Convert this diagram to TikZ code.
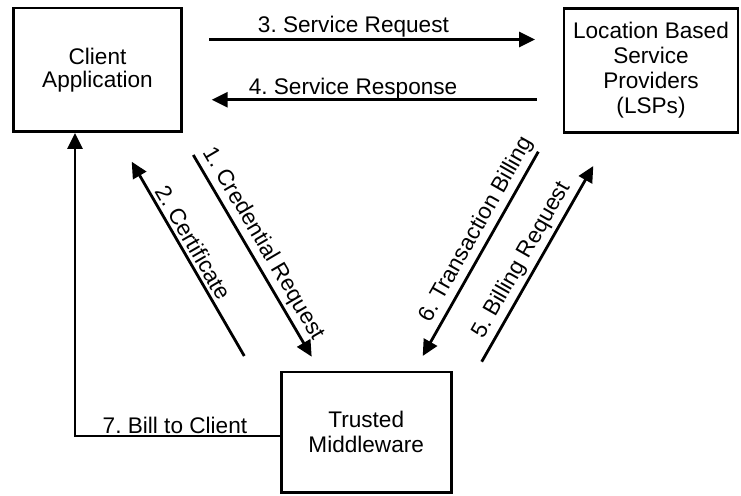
\documentclass[tikz,border=0pt]{standalone}
\usepackage{fontspec}
\setmainfont{Liberation Sans}
\usetikzlibrary{arrows.meta}
\frenchspacing
\begin{document}
\begin{tikzpicture}[x=1pt,y=-1pt,
  box/.style={draw, line width=2.8pt, align=center, inner sep=0pt,
    font=\fontsize{22.6}{25}\selectfont},
  conn/.style={line width=2.8pt, -{Triangle[length=16pt,width=15pt]}},
  lbl/.style={font=\fontsize{22.6}{25}\selectfont},
  hl/.style={lbl, anchor=base, inner sep=0pt},
  sl/.style={lbl, sloped, above}
]
\useasboundingbox (0,0) rectangle (741,495);

% boxes
\node[box, minimum width=168pt, minimum height=123.5pt] (client) at (97.5,69.75) {Client\\[-2pt]Application};
\node[box, minimum width=174pt, minimum height=124pt] (lsp) at (651,70.6) {Location Based\\Service\\Providers\\(LSPs)};
\node[box, minimum width=170pt, minimum height=120.5pt] (tm) at (366.2,432.2) {Trusted\\Middleware};

% endpoints of free connectors
\coordinate (srA) at (209,39.5);
\coordinate (srB) at (535,39.5);
\coordinate (rsA) at (536.7,99.7);
\coordinate (rsB) at (211.7,99.7);
\coordinate (crA) at (193.3,155);
\coordinate (crB) at (311.7,356.7);
\coordinate (ceA) at (244.3,356);
\coordinate (ceB) at (131.7,161.7);
\coordinate (tbA) at (538.3,151.7);
\coordinate (tbB) at (422.7,356);
\coordinate (brA) at (481.7,361.7);
\coordinate (brB) at (593.3,166);
\coordinate (bc) at (75,436);

% horizontal messages
\draw[conn] (srA) -- node[hl, pos=.443, yshift=6.5pt] {3. Service Request} (srB);
\draw[conn] (rsA) -- node[hl, pos=.565, yshift=5pt] {4. Service Response} (rsB);

% diagonal messages
\draw[conn] (crA) -- node[sl, pos=.48] {1. Credential Request} (crB);
\draw[conn] (ceA) -- node[sl, pos=.55] {2. Certificate} (ceB);
\draw[conn] (tbA) -- node[sl, pos=.42] {6. Transaction Billing} (tbB);
\draw[conn] (brA) -- node[sl, pos=.48] {5. Billing Request} (brB);

% bill to client
\draw[conn] (tm.west |- bc) -- node[hl, pos=.512, yshift=3pt] {7. Bill to Client} (bc) -- (bc |- client.south);
\end{tikzpicture}
\end{document}
